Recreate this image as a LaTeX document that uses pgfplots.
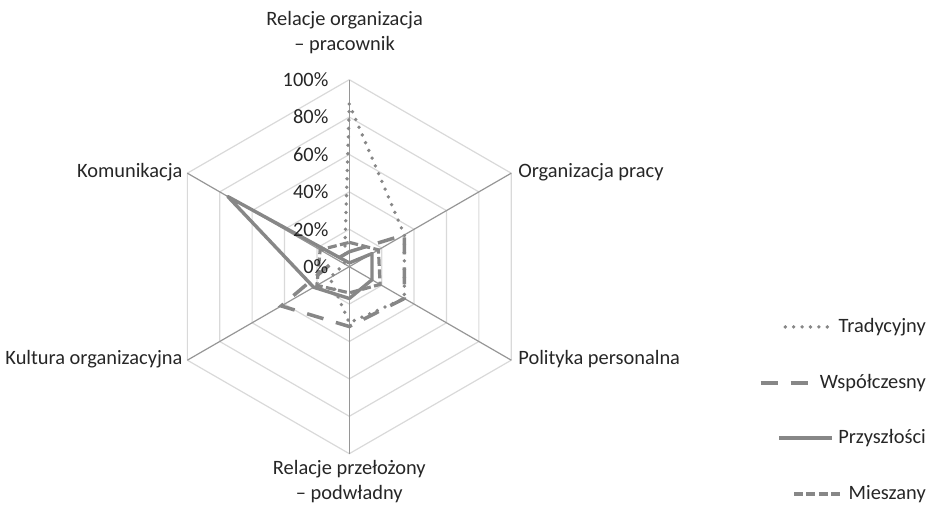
\documentclass[border=0pt]{standalone}
\usepackage{pgfplots}
\usepackage{pgfplotstable}
\pgfplotsset{compat=1.18}
\usepackage{fontspec}
\setmainfont{Carlito}
\definecolor{ser}{RGB}{135,135,135}
\definecolor{spoke}{RGB}{150,150,150}
\definecolor{ring}{RGB}{217,217,217}
\definecolor{txt}{RGB}{38,38,38}

\pgfplotstableread{
ang trad wsp prz mie
90  87  8  2 13
30  34 34 14 18
-30 34 34 14 19
-90 30 32 17 14
-150 12 42 22 20
150  3  8 75 18
90  87  8  2 13
}\radar

\tikzset{
  trad/.style={ser, line width=1.9pt, line cap=round, dash pattern=on 0pt off 4.2pt},
  wsp/.style={ser, line width=1.75pt, dash pattern=on 8.5pt off 6.5pt},
  prz/.style={ser, line width=1.7pt, line join=round},
  mie/.style={ser, line width=1.6pt, dash pattern=on 4.5pt off 1.7pt},
}

\begin{document}
\begin{tikzpicture}[font=\fontsize{10.2}{12.5}\selectfont, text=txt]
\begin{axis}[hide axis, x=0.935pt, y=0.935pt, xmin=-100, xmax=100, ymin=-100, ymax=100, clip=false]
\coordinate (C) at (axis cs:0,0);
% grid rings
\pgfplotsinvokeforeach{20,40,60,80,100}{
  \addplot[ring, line width=0.6pt, data cs=polar] coordinates {(90,#1) (30,#1) (-30,#1) (-90,#1) (-150,#1) (150,#1) (90,#1)};
}
% spokes
\pgfplotsinvokeforeach{90,30,-30,-90,-150,150}{
  \addplot[spoke, line width=0.6pt, data cs=polar] coordinates {(#1,0) (#1,100)};
}
% series
\addplot[trad, data cs=polar] table[x=ang, y=trad]{\radar};
\addplot[wsp, data cs=polar] table[x=ang, y=wsp]{\radar};
\addplot[prz, data cs=polar] table[x=ang, y=prz]{\radar};
\addplot[mie, data cs=polar] table[x=ang, y=mie]{\radar};
% radial tick labels
\pgfplotsinvokeforeach{0,20,40,60,80,100}{
  \node[anchor=east, inner sep=0pt] at (axis cs:-11,#1) {#1\%};
}
% category labels
\node[align=center, inner sep=0pt] at (axis cs:-2.5,125) {Relacje organizacja\\– pracownik};
\node[align=center, inner sep=0pt] at (axis cs:0,-115.1) {Relacje przełożony\\– podwładny};
\node[anchor=west, inner sep=0pt] at (axis cs:90.2,50.6) {Organizacja pracy};
\node[anchor=west, inner sep=0pt] at (axis cs:90.2,-49.6) {Polityka personalna};
\node[anchor=east, inner sep=0pt] at (axis cs:-89,-49.6) {Kultura organizacyjna};
\node[anchor=east, inner sep=0pt] at (axis cs:-89,50.6) {Komunikacja};
% legend
\node[anchor=east, inner sep=0pt] (l1) at (axis cs:308.5,-32.2) {Tradycyjny};
\node[anchor=east, inner sep=0pt] (l2) at (axis cs:308.5,-62.2) {Współczesny};
\node[anchor=east, inner sep=0pt] (l3) at (axis cs:308.5,-91.6) {Przyszłości};
\node[anchor=east, inner sep=0pt] (l4) at (axis cs:308.5,-121.6) {Mieszany};
\end{axis}
\draw[trad] ([xshift=-5.5pt]l1.west) -- ++(-23.5pt,0);
\draw[wsp] ([xshift=-29.5pt]l2.west) -- ++(23.5pt,0);
\draw[prz] ([xshift=-3pt]l3.west) -- ++(-26.5pt,0);
\draw[mie] ([xshift=-27.1pt]l4.west) -- ++(23.1pt,0);
\pgfresetboundingbox
\path[use as bounding box] ([shift={(-174.65pt,-119.65pt)}]C) rectangle ([shift={(291.35pt,133.35pt)}]C);
\end{tikzpicture}
\end{document}
